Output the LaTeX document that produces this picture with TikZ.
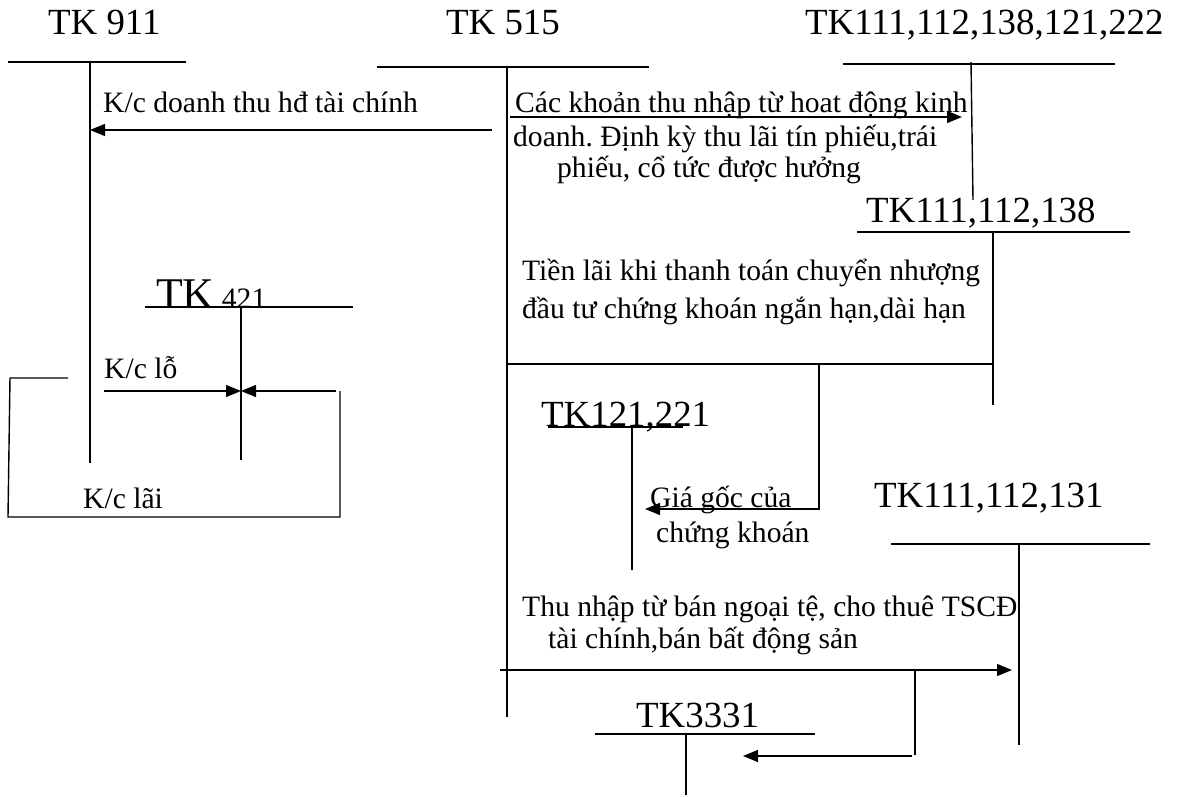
\documentclass[tikz,border=0pt]{standalone}
\usepackage{fontspec}
\setmainfont{Liberation Serif}
\usetikzlibrary{arrows.meta}
\frenchspacing
\begin{document}
\begin{tikzpicture}[x=1bp,y=-1bp,
  acc/.style={line width=1.4bp},
  arr/.style={line width=1.4bp,-{Triangle[length=15bp,width=12bp]}},
  big/.style={font=\fontsize{37}{41}\selectfont, inner sep=0pt, anchor=base west},
  small/.style={font=\fontsize{29.7}{34}\selectfont, inner sep=0pt, anchor=base west}]
\useasboundingbox (0,0) rectangle (1179,797);

% headings
\node[big] (h911) at (48,35) {TK 911};
\node[big] (h515) at (446,35) {TK 515};
\node[big] (h111a) at (805,35) {TK111,112,138,121,222};
\node[big] (h111b) at (866,222) {TK111,112,138};
\node[big, font=\fontsize{44}{48}\selectfont] (h421) at (156,308) {TK\,{\fontsize{29.7}{34}\selectfont 421}};
\node[big] (h121) at (541,426) {TK121,221};
\node[big] (h131) at (874,507) {TK111,112,131};
\node[big] (h3331) at (636,727) {TK3331};

% T-account coordinates
\coordinate (l911a) at (8,62);   \coordinate (l911b) at (186,62);
\coordinate (v911a) at (90,62);  \coordinate (v911b) at (90,463);
\coordinate (l515a) at (377,67); \coordinate (l515b) at (649,67);
\coordinate (v515a) at (507,67); \coordinate (v515b) at (507,717);
\coordinate (lAa) at (843,64);   \coordinate (lAb) at (1115,64);
\coordinate (vAa) at (971,62);   \coordinate (vAb) at (973,200);
\coordinate (lBa) at (857,232);  \coordinate (lBb) at (1130,232);
\coordinate (vBa) at (993,232);  \coordinate (vBb) at (993,405);
\coordinate (l421a) at (145,307); \coordinate (l421b) at (353,307);
\coordinate (v421a) at (241,307); \coordinate (v421b) at (241,460);
\coordinate (l121a) at (548,427); \coordinate (l121b) at (683,427);
\coordinate (v121a) at (632,427); \coordinate (v121b) at (632,570);
\coordinate (l131a) at (891,544); \coordinate (l131b) at (1150,544);
\coordinate (v131a) at (1019,544); \coordinate (v131b) at (1019,745);
\coordinate (l333a) at (595,734); \coordinate (l333b) at (815,734);
\coordinate (v333a) at (686,734); \coordinate (v333b) at (686,795);

\foreach \p in {911,515,A,B,421,121,131,333}{
  \draw[acc] (l\p a) -- (l\p b);
  \draw[acc] (v\p a) -- (v\p b);
}

% K/c doanh thu
\node[small] (t1) at (103,113) {K/c doanh thu hđ tài chính};
\coordinate (a1s) at (492,130);
\draw[arr] (a1s) -- (v911a |- a1s);

% Cac khoan thu nhap
\node[small] (t2a) at (515,113) {Các khoản thu nhập từ hoat động kinh};
\node[small] (t2b) at (513,146) {doanh. Định kỳ thu lãi tín phiếu,trái};
\node[small] (t2c) at (557,177) {phiếu, cổ tức được hưởng};
\coordinate (a2s) at (510,117); \coordinate (a2e) at (962,117);
\draw[arr] (a2s) -- (a2e);

% Tien lai
\node[small] (t3a) at (522,280) {Tiền lãi khi thanh toán chuyển nhượng};
\node[small] (t3b) at (522,318) {đầu tư chứng khoán ngắn hạn,dài hạn};
\coordinate (m3a) at (507,364); \coordinate (m3b) at (993,364);
\draw[acc] (m3a) -- (m3b);

% Gia goc
\coordinate (g1) at (819,364); \coordinate (g2) at (819,509); \coordinate (g3) at (645,509);
\draw[arr] (g1) -- (g2) -- (g3);
\node[small] (t4a) at (650,507) {Giá gốc của};
\node[small] (t4b) at (656,542) {chứng khoán};

% Thu nhap tu ban ngoai te
\node[small] (t5a) at (522,616) {Thu nhập từ bán ngoại tệ, cho thuê TSCĐ};
\node[small] (t5b) at (548,648) {tài chính,bán bất động sản};
\coordinate (a5s) at (500,670); \coordinate (a5e) at (1012,670);
\draw[arr] (a5s) -- (a5e);
\coordinate (b1) at (915,670); \coordinate (b2) at (915,755);
\draw[acc] (b1) -- (b2);
\coordinate (b3) at (912,756); \coordinate (b4) at (743,756);
\draw[arr] (b3) -- (b4);

% K/c lo, K/c lai
\node[small] (t6) at (104,378) {K/c lỗ};
\coordinate (c1) at (104,391); \coordinate (c2) at (336,391);
\draw[arr] (c1) -- (v421a |- c1);
\draw[arr] (c2) -- (v421a |- c2);
\coordinate (d1) at (340,391); \coordinate (d2) at (340,517);
\coordinate (d3) at (8,517);  \coordinate (d4) at (10,378); \coordinate (d5) at (68,378);
\draw[acc] (d1) -- (d2) -- (d3) -- (d4) -- (d5);
\node[small] (t7) at (83,508) {K/c lãi};
\end{tikzpicture}
\end{document}
